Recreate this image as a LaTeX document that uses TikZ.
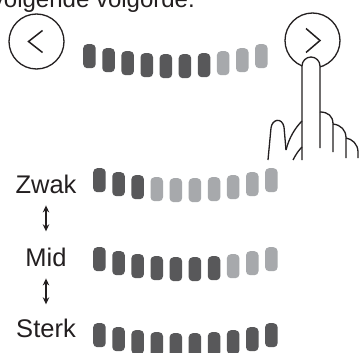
\documentclass[tikz,border=0pt]{standalone}
\usepackage{fontspec}
\setmainfont{Liberation Sans}
\usetikzlibrary{arrows.meta}
\definecolor{bardark}{HTML}{58585A}
\definecolor{barlight}{HTML}{A7A9AC}
\definecolor{inkline}{HTML}{231F20}
\tikzset{
  levelbar/.style={rounded corners=4pt, minimum width=12.5pt, minimum height=24pt, inner sep=0pt, anchor=north west},
  navbutton/.style={draw=inkline, circle, line width=1.3pt, minimum size=55pt, inner sep=0pt},
  chevron/.style={draw=inkline, line width=1.5pt},
  handline/.style={draw=inkline, line width=1.3pt, line join=round},
  introtext/.style={font=\fontsize{24}{28}\selectfont, inner sep=0pt, text=inkline},
  levellabel/.style={font=\fontsize{25.5}{28}\selectfont, inner sep=0pt, text=inkline, anchor=base},
  updown/.style={{Stealth[length=7pt,width=6.5pt]}-{Stealth[length=7pt,width=6.5pt]}, line width=1.2pt, draw=inkline}
}
% one row of ten level bars, the first #4 of them dark
\newcommand{\levelrow}[4]{%
  \foreach \dy [count=\i] in {0,4,7,9,10,10,9,7,4,0} {
    \ifnum\i>#4 \def\barcol{barlight}\else\def\barcol{bardark}\fi
    \node[levelbar, fill=\barcol] (#1-\i) at ({#2+(\i-1)*19.1}, {#3+\dy}) {};
  }}

\begin{document}
\begin{tikzpicture}[x=1pt, y=-1pt]
  \useasboundingbox (0,0) rectangle (359,353);
  \fill[white] (0,0) rectangle (359,353);
  \clip (0,0) rectangle (359,353);

  \node[introtext, anchor=base east] (intro) at (195,8) {volgende volgorde.};

  % buttons
  \node[navbutton] (prev) at (36.5,41.5) {};
  \draw[chevron] ([shift={(6,-11)}]prev.center) -- ([shift={(-8,0)}]prev.center)
    -- ([shift={(6,11)}]prev.center);
  \node[navbutton] (next) at (312.5,40.5) {};
  \draw[chevron] ([shift={(-6.5,-12)}]next.center) -- ([shift={(7.5,0)}]next.center)
    -- ([shift={(-6.5,12)}]next.center);

  \levelrow{cur}{83}{44}{7}

  % hand pressing the right button
  \fill[white, rounded corners=9pt] (302,162) -- (302,57) -- (320,57) -- (320,162) -- cycle;
  \draw[handline, rounded corners=9pt] (302,160) -- (302,57) -- (320,57) -- (320,148);
  \draw[handline] (320,112) .. controls (328,112) and (333,116) .. (333,124) -- (333,152);
  \draw[handline] (333,124) .. controls (341,125) and (346,130) .. (346,138) -- (346,158);
  \draw[handline] (346,138) .. controls (352,139) and (358,144) .. (358,152) -- (358,158);
  \draw[handline] (268,160) -- (271,128) .. controls (272,119) and (282,117) .. (284,127) -- (286,150);
  \draw[handline] (286,150) .. controls (289,138) and (295,128) .. (302,121);
  \draw[handline] (293,160) .. controls (296,154) and (299,150) .. (302,147);

  % levels
  \node[levellabel] (zwak) at (46,193) {Zwak};
  \node[levellabel] (mid) at (46,266) {Mid};
  \node[levellabel] (sterk) at (46,337) {Sterk};
  \draw[updown, shorten <=12pt, shorten >=16pt] (zwak) -- (mid);
  \draw[updown, shorten <=12pt, shorten >=14pt] (mid) -- (sterk);

  \levelrow{zwakbar}{93}{168}{3}
  \levelrow{midbar}{93}{247}{7}
  \levelrow{sterkbar}{93}{323}{10}
\end{tikzpicture}
\end{document}
